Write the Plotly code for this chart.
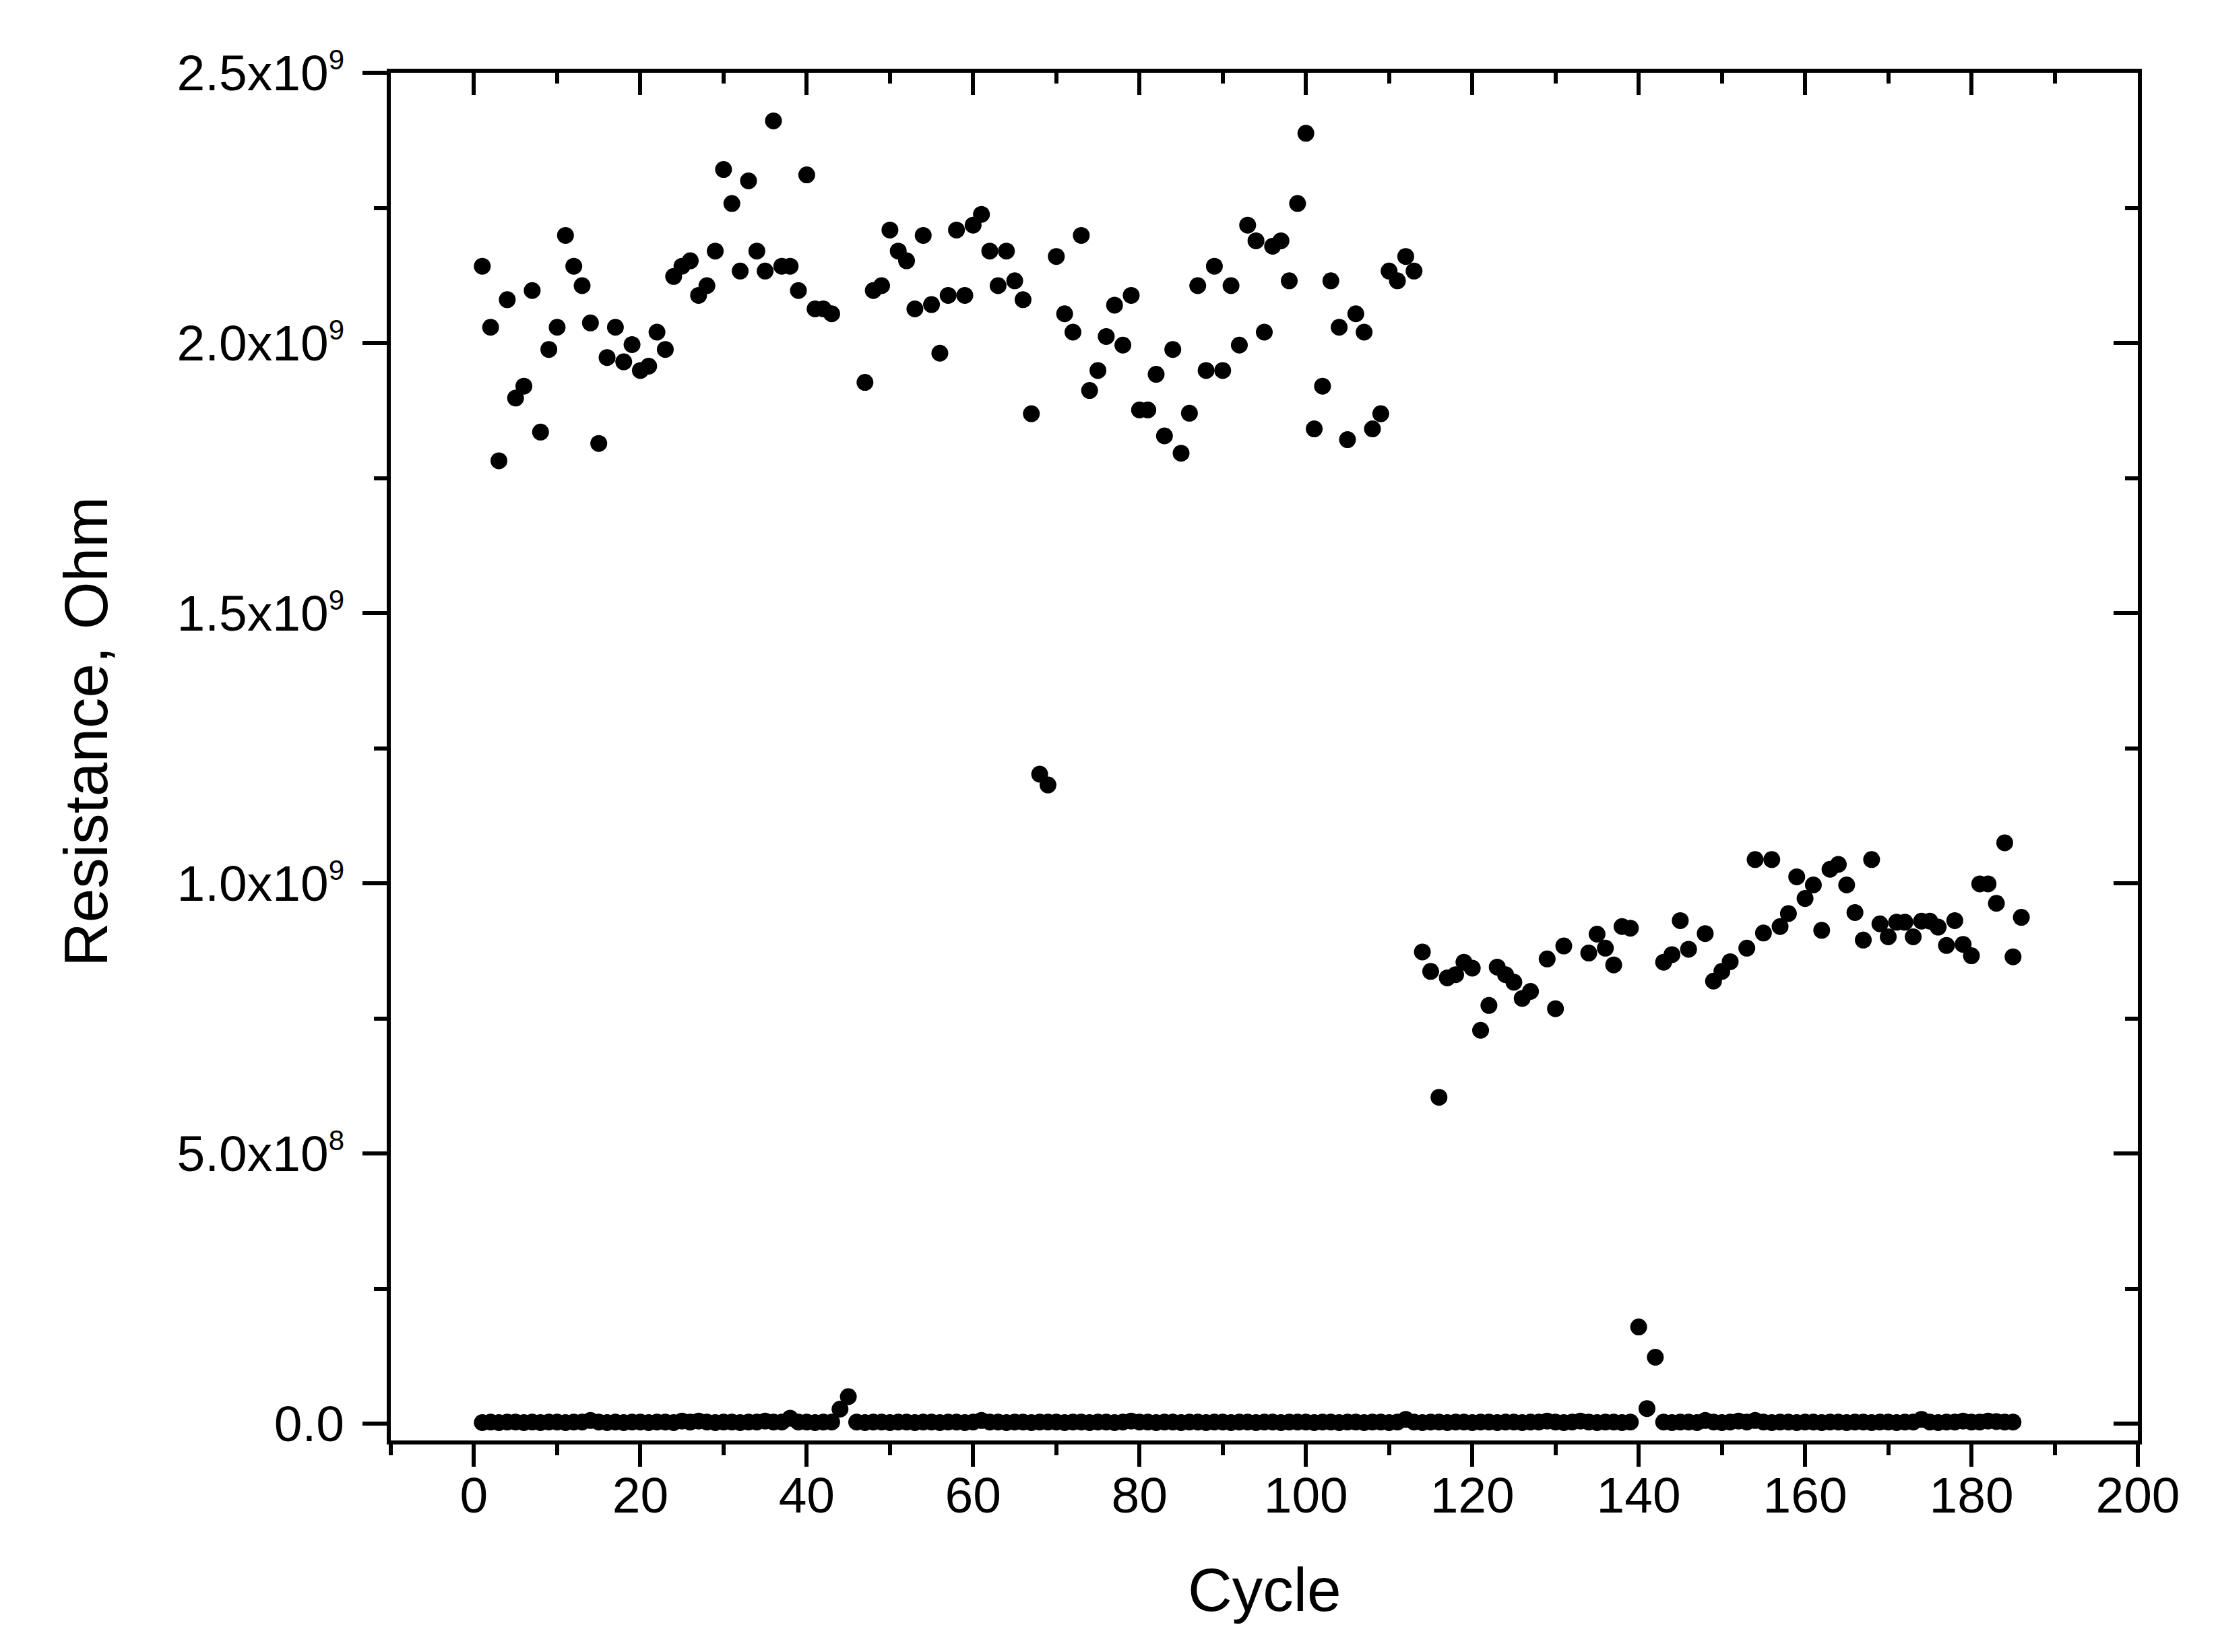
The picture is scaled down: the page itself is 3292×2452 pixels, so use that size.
import plotly.graph_objects as go

# ---- data ----
# High-resistance state (Ohm)
hrs_cycle = (list(range(1, 44)) + list(range(47, 128)) + [129, 130, 131]
             + list(range(134, 140)) + [143, 144, 145, 146]
             + [148, 149, 150, 151] + list(range(153, 187)))
hrs_value_g = [
    2.142, 2.029, 1.782, 2.080, 1.898, 1.920, 2.097, 1.835, 1.988, 2.029,
    2.199, 2.142, 2.106, 2.037, 1.814, 1.973, 2.029, 1.965, 1.997, 1.949,
    1.957, 2.020, 1.988, 2.123, 2.142, 2.152, 2.088, 2.106, 2.170, 2.321,
    2.258, 2.133, 2.300, 2.170, 2.133, 2.411, 2.142, 2.142, 2.097, 2.311,
    2.063, 2.063, 2.054,
    1.927, 2.097, 2.106, 2.209, 2.170, 2.152, 2.063, 2.199, 2.071, 1.981,
    2.088, 2.209, 2.088, 2.218, 2.238, 2.170, 2.106, 2.170, 2.115, 2.080,
    1.869, 1.202, 1.182, 2.160, 2.054, 2.020, 2.199, 1.912, 1.949, 2.012,
    2.070, 1.996, 2.088, 1.876, 1.876, 1.942, 1.828, 1.988, 1.796, 1.870,
    2.106, 1.949, 2.142, 1.949, 2.106, 1.996, 2.218, 2.189, 2.020, 2.179,
    2.189, 2.115, 2.258, 2.388, 1.841, 1.920, 2.115, 2.029, 1.821, 2.054,
    2.020, 1.841, 1.869, 2.133, 2.115, 2.160, 2.133,
    0.873, 0.837, 0.604, 0.825, 0.831, 0.854, 0.843, 0.728, 0.774, 0.845,
    0.831, 0.817, 0.787, 0.800,
    0.860, 0.768, 0.884,
    0.871, 0.906, 0.880, 0.849, 0.920, 0.917,
    0.854, 0.868, 0.931, 0.878,
    0.907, 0.819, 0.837, 0.855,
    0.880, 1.044, 0.908, 1.044, 0.920, 0.944, 1.012, 0.972, 0.997, 0.913,
    1.026, 1.035, 0.997, 0.946, 0.895, 1.044, 0.925, 0.901, 0.928, 0.928,
    0.901, 0.930, 0.930, 0.919, 0.885, 0.931, 0.887, 0.866, 0.999, 0.999,
    0.963, 1.075, 0.864, 0.937,
]
hrs_value = [v * 1e9 for v in hrs_value_g]

# Low-resistance state (Ohm), cycles 1..185, values read in MOhm
lrs_cycle = list(range(1, 186))
lrs_value_m = [
    2, 3, 2, 3, 3, 2, 3, 2, 3, 3, 2, 3, 3, 6, 3, 2, 3, 2, 3, 3,      # 1-20
    2, 3, 3, 2, 5, 3, 5, 3, 2, 3, 3, 2, 3, 3, 5, 3, 3, 10, 3, 3,     # 21-40
    2, 3, 3, 27, 50, 3, 2, 3, 3, 2, 3, 3, 2, 3, 3, 2, 3, 3, 2, 3,    # 41-60
    6, 3, 3, 2, 3, 3, 2, 3, 3, 3, 2, 3, 3, 2, 3, 3, 2, 3, 5, 3,      # 61-80
    3, 2, 3, 3, 2, 3, 3, 2, 3, 3, 2, 3, 3, 2, 3, 3, 2, 3, 3, 3,      # 81-100
    2, 3, 3, 2, 3, 3, 2, 3, 3, 2, 3, 8, 3, 2, 3, 3, 2, 3, 3, 2,      # 101-120
    3, 3, 2, 3, 3, 2, 3, 3, 5, 3, 2, 3, 5, 3, 2, 3, 3, 2, 3, 179,    # 121-140
    28, 123, 3, 2, 3, 3, 2, 6, 3, 2, 3, 5, 3, 6, 3, 2, 3, 3, 2, 3,   # 141-160
    3, 2, 3, 3, 2, 3, 3, 2, 3, 3, 2, 3, 3, 8, 3, 2, 3, 3, 5, 3,      # 161-180
    3, 5, 4, 3, 3,                                                   # 181-185
]
lrs_value = [v * 1e6 for v in lrs_value_m]

x_ticks = list(range(0, 201, 20))
y_tickvals = [0, 0.5e9, 1.0e9, 1.5e9, 2.0e9, 2.5e9]
SUP = '<sup><span style="font-size:42px">{}</span></sup>'
y_ticktext = ["0.0", "5.0x10" + SUP.format(8), "1.0x10" + SUP.format(9),
              "1.5x10" + SUP.format(9), "2.0x10" + SUP.format(9),
              "2.5x10" + SUP.format(9)]
x_title = "Cycle"
y_title = "Resistance, Ohm"

# ---- figure ----
FONT = "Liberation Sans, Arial, sans-serif"
X_RANGE = [-10, 200]
Y_RANGE = [-3.1e7, 2.5e9]
LW = 6
MS = 25

fig = go.Figure()
fig.add_trace(go.Scatter(x=hrs_cycle, y=hrs_value, mode="markers",
                         marker=dict(color="black", size=MS, line=dict(width=0)),
                         name="HRS", showlegend=False))
fig.add_trace(go.Scatter(x=lrs_cycle, y=lrs_value, mode="markers",
                         marker=dict(color="black", size=MS, line=dict(width=0)),
                         name="LRS", showlegend=False))
# empty traces so the mirrored (inward-tick) axes are drawn
fig.add_trace(go.Scatter(x=[], y=[], xaxis="x2", yaxis="y", showlegend=False, hoverinfo="skip"))
fig.add_trace(go.Scatter(x=[], y=[], xaxis="x", yaxis="y2", showlegend=False, hoverinfo="skip"))

axis_common = dict(showgrid=False, zeroline=False, linecolor="black", linewidth=LW,
                   tickcolor="black", tickwidth=LW,
                   tickfont=dict(family=FONT, size=75, color="black"))

fig.update_layout(
    width=3292, height=2452,
    paper_bgcolor="white", plot_bgcolor="white",
    margin=dict(l=572, r=127, t=100, b=322, pad=0),
    font=dict(family=FONT, color="black"),
    xaxis=dict(range=X_RANGE, tickmode="array", tickvals=x_ticks,
               ticks="outside", ticklen=33, showline=True, mirror=True,
               minor=dict(dtick=10, tick0=0, ticks="outside", ticklen=16,
                          tickwidth=LW, tickcolor="black"),
               ticklabelstandoff=-22,
               **axis_common),
    yaxis=dict(range=Y_RANGE, tickmode="array", tickvals=y_tickvals,
               ticktext=y_ticktext, ticks="outside", ticklen=36,
               showline=True, mirror=True,
               minor=dict(dtick=0.25e9, tick0=0, ticks="outside", ticklen=19,
                          tickwidth=LW, tickcolor="black"),
               ticklabelstandoff=12,
               **axis_common),
    xaxis2=dict(range=X_RANGE, overlaying="x", side="top", anchor="y",
                tickmode="array", tickvals=x_ticks, ticks="inside", ticklen=33,
                showticklabels=False, showline=False, showgrid=False, zeroline=False,
                tickcolor="black", tickwidth=LW,
                minor=dict(dtick=10, tick0=0, ticks="inside", ticklen=16,
                           tickwidth=LW, tickcolor="black")),
    yaxis2=dict(range=Y_RANGE, overlaying="y", side="right", anchor="x",
                tickmode="array", tickvals=y_tickvals, ticks="inside", ticklen=36,
                showticklabels=False, showline=False, showgrid=False, zeroline=False,
                tickcolor="black", tickwidth=LW,
                minor=dict(dtick=0.25e9, tick0=0, ticks="inside", ticklen=19,
                           tickwidth=LW, tickcolor="black")),
    annotations=[
        dict(text=x_title, xref="paper", yref="paper", x=0.5, y=-0.109,
             xanchor="center", yanchor="middle", showarrow=False,
             font=dict(family=FONT, size=91, color="black")),
        dict(text=y_title, xref="paper", yref="paper", x=-0.1745, y=0.518,
             xanchor="center", yanchor="middle", textangle=-90, showarrow=False,
             font=dict(family=FONT, size=91, color="black")),
    ],
)

fig.write_html("out.html")
